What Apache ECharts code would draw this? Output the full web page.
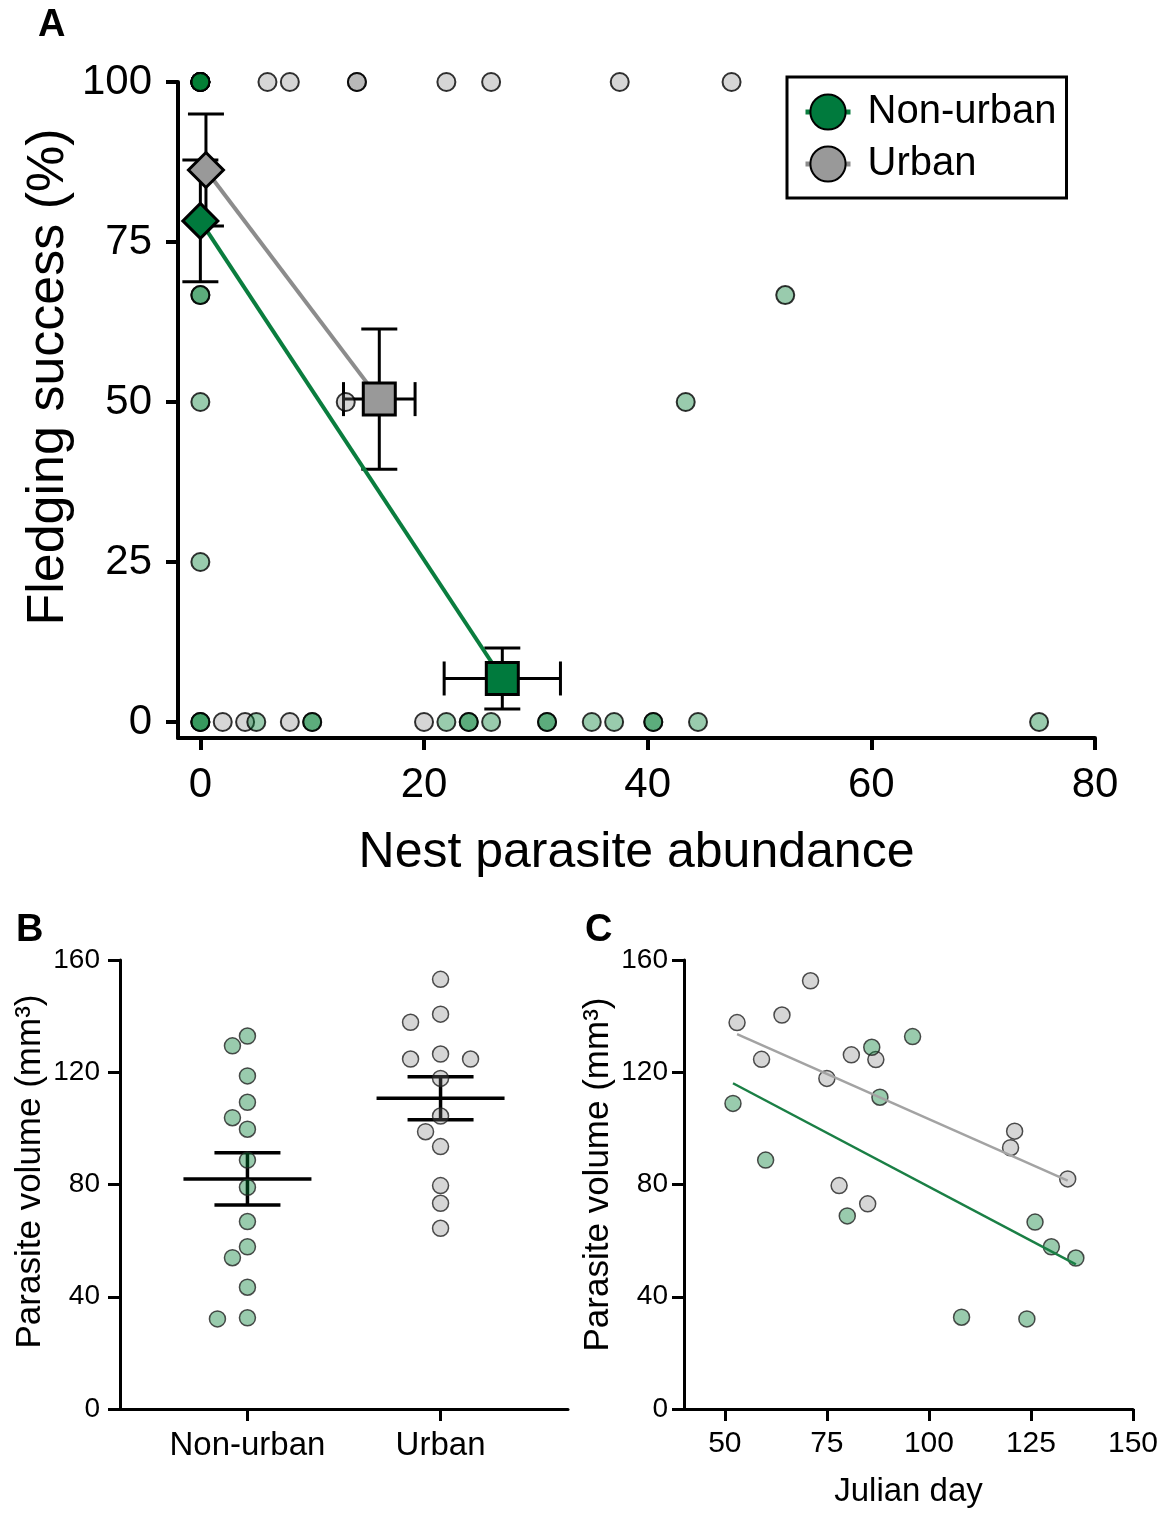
<!DOCTYPE html>
<html>
<head>
<meta charset="utf-8">
<script src="https://cdn.jsdelivr.net/npm/echarts@6/dist/echarts.min.js"></script>
<style>
  html, body { margin: 0; background: #fff; }
  #chart { width: 1167px; height: 1514px; }
</style>
</head>
<body>
<div id="chart"></div>
<script>
// ---- panel A: fledging success vs parasite abundance ----
// raw nests [abundance, success %]; repeated entries are overlapping nests
const urbanNestsA = [
  [6, 100], [8, 100], [14, 100], [14, 100], [22, 100], [26, 100], [37.5, 100], [47.5, 100],
  [13, 50],
  [2, 0], [4, 0], [8, 0], [20, 0]
]
const nonUrbanNestsA = [
  [0, 100], [0, 100], [0, 100], [0, 100], [0, 100], [0, 100], [0, 100], [0, 100],
  [0, 66.7], [0, 66.7], [0, 50], [0, 25],
  [0, 0], [0, 0], [0, 0], [5, 0], [10, 0], [10, 0], [22, 0], [24, 0], [24, 0], [26, 0],
  [31, 0], [31, 0], [35, 0], [37, 0], [40.5, 0], [40.5, 0], [44.5, 0], [75, 0],
  [52.3, 66.7], [43.4, 50]
]
// group means (fumigated, sham) with SE
const nonUrbanMeanX = [0, 27]
const nonUrbanMeanY = [78.3, 6.8]
const nonUrbanSeX = [0, 5.2]
const nonUrbanSeY = [9.5, 4.75]
const urbanMeanX = [0.5, 16]
const urbanMeanY = [86.25, 50.45]
const urbanSeX = [0, 3.2]
const urbanSeY = [8.75, 10.95]
const ticksAX = [0, 20, 40, 60, 80]
const ticksAY = [0, 25, 50, 75, 100]

// ---- panel B: parasite volume by habitat ----
const groupsB = ['Non-urban', 'Urban']
const nonUrbanVol = [132.9, 129.4, 118.7, 109.3, 103.8, 99.7, 88.7, 79.0, 66.8, 57.8, 53.9, 43.4, 32.5, 32.1]
const urbanVol = [153.1, 140.7, 137.8, 126.5, 124.7, 124.7, 117.8, 104.4, 98.8, 93.5, 79.6, 73.3, 64.4]

// ---- panel C: parasite volume vs julian day ----
const nonUrbanDay = [52, 60, 86, 96, 88, 80, 126, 130, 136, 108, 124]
const nonUrbanDayVol = [108.9, 88.7, 128.9, 132.7, 111.1, 68.8, 66.6, 57.8, 53.8, 32.7, 32.1]
const urbanDay = [71, 53, 64, 59, 81, 87, 75, 121, 120, 134, 78, 85]
const urbanDayVol = [152.6, 137.7, 140.4, 124.6, 126.2, 124.5, 117.8, 99.0, 93.1, 82.0, 79.6, 73.1]
const ticksCX = [50, 75, 100, 125, 150]

const FONT = '"Liberation Sans", Arial, Helvetica, sans-serif'
const GREEN = '#007a3d'
const GREEN_LINE = '#0a7d3e'
const GREEN_PT = 'rgba(0, 125, 50, 0.5)'
const GRAY = '#999999'
const GRAY_LINE = '#8c8c8c'
const GRAY_PT = 'rgba(120, 120, 120, 0.38)'

function meanSe(v) {
  const n = v.length
  const m = v.reduce((a, b) => a + b, 0) / n
  const sd = Math.sqrt(v.reduce((a, b) => a + (b - m) ** 2, 0) / (n - 1))
  return [m, sd / Math.sqrt(n)]
}

function fitLine(xs, ys) {
  const n = xs.length
  const mx = xs.reduce((a, b) => a + b, 0) / n
  const my = ys.reduce((a, b) => a + b, 0) / n
  let sxy = 0, sxx = 0
  xs.forEach((x, i) => { sxy += (x - mx) * (ys[i] - my); sxx += (x - mx) ** 2 })
  const b = sxy / sxx, a = my - b * mx
  const x0 = Math.min(...xs), x1 = Math.max(...xs)
  return [[x0, a + b * x0], [x1, a + b * x1]]
}

// simple beeswarm: horizontal pixel offsets so dots don't overlap
function beeswarm(values, pxPerUnit, step, dist) {
  const placed = []
  const offs = new Array(values.length).fill(0)
  const order = values.map((v, i) => i).sort((a, b) => values[b] - values[a])
  const cands = [0, -step, step, -2 * step, 2 * step, -3 * step, 3 * step]
  order.forEach(i => {
    const y = values[i] * pxPerUnit
    for (const c of cands) {
      if (placed.every(p => Math.hypot(p.x - c, p.y - y) >= dist)) {
        offs[i] = c
        placed.push({ x: c, y })
        break
      }
    }
  })
  return offs
}

// error bars for panel A: [x, y, seX, seY]
function errBarA(params, api) {
  const x = api.value(0), y = api.value(1), ex = api.value(2), ey = api.value(3)
  const st = { stroke: '#000', lineWidth: 3 }
  const t = api.coord([x, y + ey]), b = api.coord([x, y - ey])
  const kids = [
    { type: 'line', shape: { x1: t[0], y1: t[1], x2: b[0], y2: b[1] }, style: st },
    { type: 'line', shape: { x1: t[0] - 18, y1: t[1], x2: t[0] + 18, y2: t[1] }, style: st },
    { type: 'line', shape: { x1: b[0] - 18, y1: b[1], x2: b[0] + 18, y2: b[1] }, style: st }
  ]
  if (ex > 0) {
    const l = api.coord([x - ex, y]), r = api.coord([x + ex, y])
    kids.push(
      { type: 'line', shape: { x1: l[0], y1: l[1], x2: r[0], y2: r[1] }, style: st },
      { type: 'line', shape: { x1: l[0], y1: l[1] - 17, x2: l[0], y2: l[1] + 17 }, style: st },
      { type: 'line', shape: { x1: r[0], y1: r[1] - 17, x2: r[0], y2: r[1] + 17 }, style: st }
    )
  }
  return { type: 'group', children: kids }
}

// mean +- SE for panel B: [x, mean, se]
function errBarB(params, api) {
  const x = api.value(0), m = api.value(1), se = api.value(2)
  const st = { stroke: '#000', lineWidth: 3.5 }
  const c = api.coord([x, m]), t = api.coord([x, m + se]), b = api.coord([x, m - se])
  return {
    type: 'group',
    children: [
      { type: 'line', shape: { x1: c[0] - 64, y1: c[1], x2: c[0] + 64, y2: c[1] }, style: st },
      { type: 'line', shape: { x1: c[0], y1: t[1], x2: c[0], y2: b[1] }, style: st },
      { type: 'line', shape: { x1: c[0] - 33, y1: t[1], x2: c[0] + 33, y2: t[1] }, style: st },
      { type: 'line', shape: { x1: c[0] - 33, y1: b[1], x2: c[0] + 33, y2: b[1] }, style: st }
    ]
  }
}

function meanPoints(xs, ys) {
  return xs.map((x, i) => ({
    value: [x, ys[i]],
    symbol: i === 0 ? 'diamond' : 'rect',
    symbolSize: i === 0 ? 35 : 32
  }))
}

function valueAxis(o) {
  return Object.assign({
    type: 'value',
    splitLine: { show: false },
    axisLine: { show: true, onZero: false, lineStyle: { color: '#000', width: 3 } },
    axisTick: { show: true, length: 12, lineStyle: { color: '#000', width: 3 } },
    axisLabel: { color: '#000', fontFamily: FONT },
    nameLocation: 'middle',
    nameTextStyle: { color: '#000', fontFamily: FONT }
  }, o)
}

const pxPerVol = 449 / 160
const nonUrbanOff = beeswarm(nonUrbanVol, pxPerVol, 15, 17.5)
const urbanOff = beeswarm(urbanVol, pxPerVol, 15, 17.5)
const nonUrbanStat = meanSe(nonUrbanVol)
const urbanStat = meanSe(urbanVol)

const ptA = (color) => ({ color, borderColor: '#000', borderWidth: 2 })
const ptBC = (color) => ({ color, borderColor: '#222', borderWidth: 1.5 })
const panelLetter = { fontSize: 38, fontWeight: 'bold', color: '#000', fontFamily: FONT }

const chart = echarts.init(document.getElementById('chart'))

const option = {
  animation: false,
  backgroundColor: '#fff',
  textStyle: { fontFamily: FONT },
  title: [
    { text: 'A', left: 33, top: 2, textStyle: panelLetter },
    { text: 'B', left: 11, top: 907, textStyle: panelLetter },
    { text: 'C', left: 580, top: 907, textStyle: panelLetter }
  ],
  legend: {
    data: [
      { name: 'Non-urban', lineStyle: { color: GREEN_LINE, width: 5 } },
      { name: 'Urban', lineStyle: { color: GRAY_LINE, width: 5 } }
    ],
    orient: 'vertical',
    left: 787,
    top: 77,
    itemWidth: 45,
    itemHeight: 44,
    itemGap: 12,
    padding: [15, 10, 14, 16],
    borderColor: '#000',
    borderWidth: 3,
    selectedMode: false,
    textStyle: { fontSize: 40, color: '#000', fontFamily: FONT, padding: [0, 0, 0, 12] }
  },
  grid: [
    { left: 178, top: 82, width: 917, height: 656 },
    { left: 120, top: 960, width: 448, height: 449 },
    { left: 684, top: 960, width: 449, height: 449 }
  ],
  xAxis: [
    valueAxis({
      gridIndex: 0, min: -2, max: 80,
      axisLine: { show: true, onZero: false, lineStyle: { color: '#000', width: 4 } },
      axisTick: { show: true, length: 12, customValues: ticksAX, lineStyle: { color: '#000', width: 4 } },
      axisLabel: { customValues: ticksAX, fontSize: 42, margin: 26, color: '#000', fontFamily: FONT },
      name: 'Nest parasite abundance', nameGap: 90,
      nameTextStyle: { fontSize: 50, color: '#000', fontFamily: FONT }
    }),
    valueAxis({
      gridIndex: 1, min: 0.34, max: 2.66,
      axisTick: { show: true, length: 12, customValues: [1, 2], lineStyle: { color: '#000', width: 3 } },
      axisLabel: {
        customValues: [1, 2], fontSize: 33, margin: 20, color: '#000', fontFamily: FONT,
        formatter: v => groupsB[Math.round(v) - 1]
      }
    }),
    valueAxis({
      gridIndex: 2, min: 40, max: 150,
      axisTick: { show: true, length: 12, customValues: ticksCX, lineStyle: { color: '#000', width: 3 } },
      axisLabel: { customValues: ticksCX, fontSize: 30, margin: 20, color: '#000', fontFamily: FONT },
      name: 'Julian day', nameGap: 66,
      nameTextStyle: { fontSize: 33, color: '#000', fontFamily: FONT }
    })
  ],
  yAxis: [
    valueAxis({
      gridIndex: 0, min: -2.5, max: 100,
      axisLine: { show: true, onZero: false, lineStyle: { color: '#000', width: 4 } },
      axisTick: { show: true, length: 12, customValues: ticksAY, lineStyle: { color: '#000', width: 4 } },
      axisLabel: { customValues: ticksAY, fontSize: 42, margin: 26, color: '#000', fontFamily: FONT },
      name: 'Fledging success (%)', nameGap: 103, nameMoveOverlap: false,
      nameTextStyle: { fontSize: 52, color: '#000', fontFamily: FONT, padding: [0, 0, 0, 66] }
    }),
    valueAxis({
      gridIndex: 1, min: 0, max: 160, interval: 40,
      axisLabel: { fontSize: 28, margin: 20, color: '#000', fontFamily: FONT },
      name: 'Parasite volume (mm³)', nameGap: 72,
      nameTextStyle: { fontSize: 35, color: '#000', fontFamily: FONT, padding: [0, 0, 0, 26] }
    }),
    valueAxis({
      gridIndex: 2, min: 0, max: 160, interval: 40,
      axisLabel: { fontSize: 28, margin: 16, color: '#000', fontFamily: FONT },
      name: 'Parasite volume (mm³)', nameGap: 68,
      nameTextStyle: { fontSize: 35, color: '#000', fontFamily: FONT, padding: [0, 0, 0, 20] }
    })
  ],
  series: [
    // panel A
    {
      type: 'scatter', xAxisIndex: 0, yAxisIndex: 0, clip: false,
      symbolSize: 18, itemStyle: ptA(GRAY_PT), data: urbanNestsA
    },
    {
      type: 'scatter', xAxisIndex: 0, yAxisIndex: 0, clip: false,
      symbolSize: 18, itemStyle: ptA(GREEN_PT), data: nonUrbanNestsA
    },
    {
      type: 'custom', xAxisIndex: 0, yAxisIndex: 0, clip: false,
      renderItem: errBarA, encode: { x: 0, y: 1 },
      data: urbanMeanX.map((x, i) => [x, urbanMeanY[i], urbanSeX[i], urbanSeY[i]])
    },
    {
      name: 'Urban', type: 'line', xAxisIndex: 0, yAxisIndex: 0, clip: false,
      symbol: 'circle', symbolSize: 34,
      lineStyle: { color: GRAY_LINE, width: 4 },
      itemStyle: { color: GRAY, borderColor: '#000', borderWidth: 3 },
      data: meanPoints(urbanMeanX, urbanMeanY)
    },
    {
      type: 'custom', xAxisIndex: 0, yAxisIndex: 0, clip: false,
      renderItem: errBarA, encode: { x: 0, y: 1 },
      data: nonUrbanMeanX.map((x, i) => [x, nonUrbanMeanY[i], nonUrbanSeX[i], nonUrbanSeY[i]])
    },
    {
      name: 'Non-urban', type: 'line', xAxisIndex: 0, yAxisIndex: 0, clip: false,
      symbol: 'circle', symbolSize: 34,
      lineStyle: { color: GREEN_LINE, width: 4 },
      itemStyle: { color: GREEN, borderColor: '#000', borderWidth: 3 },
      data: meanPoints(nonUrbanMeanX, nonUrbanMeanY)
    },
    // panel B
    {
      type: 'custom', xAxisIndex: 1, yAxisIndex: 1, clip: false,
      renderItem: errBarB, encode: { x: 0, y: 1 },
      data: [[1, nonUrbanStat[0], nonUrbanStat[1]], [2, urbanStat[0], urbanStat[1]]]
    },
    {
      type: 'scatter', xAxisIndex: 1, yAxisIndex: 1, clip: false,
      symbolSize: 16, itemStyle: ptBC(GREEN_PT),
      data: nonUrbanVol.map((v, i) => ({ value: [1, v], symbolOffset: [nonUrbanOff[i], 0] }))
    },
    {
      type: 'scatter', xAxisIndex: 1, yAxisIndex: 1, clip: false,
      symbolSize: 16, itemStyle: ptBC(GRAY_PT),
      data: urbanVol.map((v, i) => ({ value: [2, v], symbolOffset: [urbanOff[i], 0] }))
    },
    // panel C
    {
      type: 'line', xAxisIndex: 2, yAxisIndex: 2, showSymbol: false,
      lineStyle: { color: '#a3a3a3', width: 2.5 },
      data: fitLine(urbanDay, urbanDayVol)
    },
    {
      type: 'line', xAxisIndex: 2, yAxisIndex: 2, showSymbol: false,
      lineStyle: { color: '#1a7f45', width: 2.5 },
      data: fitLine(nonUrbanDay, nonUrbanDayVol)
    },
    {
      type: 'scatter', xAxisIndex: 2, yAxisIndex: 2, clip: false,
      symbolSize: 16, itemStyle: ptBC(GRAY_PT),
      data: urbanDay.map((d, i) => [d, urbanDayVol[i]])
    },
    {
      type: 'scatter', xAxisIndex: 2, yAxisIndex: 2, clip: false,
      symbolSize: 16, itemStyle: ptBC(GREEN_PT),
      data: nonUrbanDay.map((d, i) => [d, nonUrbanDayVol[i]])
    }
  ]
}

chart.setOption(option)
</script>
</body>
</html>
